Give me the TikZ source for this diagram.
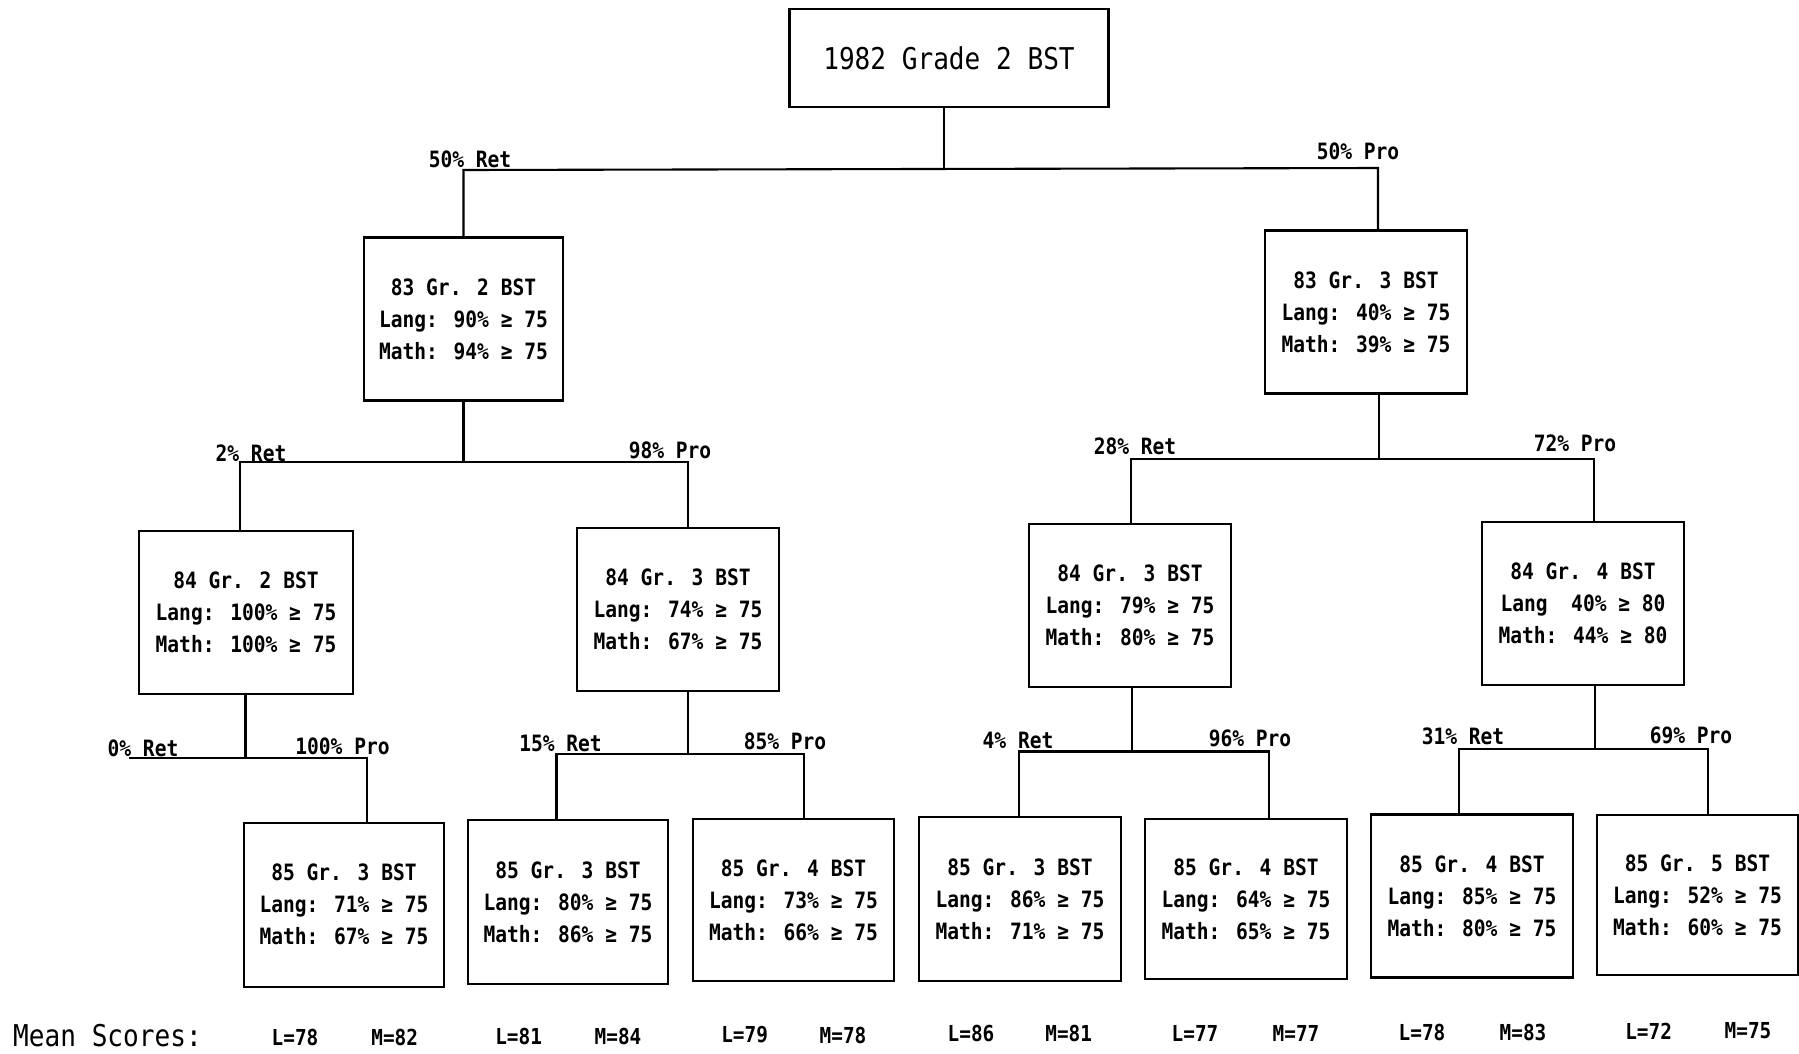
\documentclass[tikz,border=0pt]{standalone}
\usepackage{fontspec}
\newfontfamily\boxfont{DejaVu Sans Mono}[FakeStretch=0.87]
\newfontfamily\boldbox{DejaVu Sans Mono Bold}[FakeStretch=0.87]
\newfontfamily\meanfont{DejaVu Sans Mono Bold}[FakeStretch=0.88]
\begin{document}
\begin{tikzpicture}[x=1pt,y=-1pt,
  bx/.style={draw, line width=2.2pt, align=center, inner sep=0pt,
    font=\boldbox\fontsize{22.5}{32}\selectfont},
  ttl/.style={draw, line width=2.2pt, align=center, inner sep=0pt,
    font=\boxfont\fontsize{30}{36}\selectfont},
  lbl/.style={inner sep=0pt, font=\boldbox\fontsize{22.5}{27}\selectfont},
  mean/.style={inner sep=0pt, font=\meanfont\fontsize{22}{26}\selectfont},
  meanhead/.style={inner sep=0pt, font=\boxfont\fontsize{30}{36}\selectfont},
  conn/.style={line width=2.1pt}]
\useasboundingbox (0,0) rectangle (1799,1053);

% boxes
\node[ttl, minimum width=319pt, minimum height=98pt] (top) at (949,58) {1982 Grade 2 BST};

\node[bx, minimum width=199pt, minimum height=163pt] (l1a) at (463.5,319) {83 Gr. 2 BST\\Lang: 90\% ≥ 75\\Math: 94\% ≥ 75};
\node[bx, minimum width=202pt, minimum height=163pt] (l1b) at (1366,312) {83 Gr. 3 BST\\Lang: 40\% ≥ 75\\Math: 39\% ≥ 75};

\node[bx, minimum width=214pt, minimum height=163pt] (l2a) at (246,612.5) {84 Gr. 2 BST\\Lang: 100\% ≥ 75\\Math: 100\% ≥ 75};
\node[bx, minimum width=202pt, minimum height=163pt] (l2b) at (678,609.5) {84 Gr. 3 BST\\Lang: 74\% ≥ 75\\Math: 67\% ≥ 75};
\node[bx, minimum width=202pt, minimum height=163pt] (l2c) at (1130,605.5) {84 Gr. 3 BST\\Lang: 79\% ≥ 75\\Math: 80\% ≥ 75};
\node[bx, minimum width=202pt, minimum height=163pt] (l2d) at (1583,603.5) {84 Gr. 4 BST\\Lang\ \ 40\% ≥ 80\\Math: 44\% ≥ 80};

\node[bx, minimum width=200pt, minimum height=164pt] (b1) at (344,904.6) {85 Gr. 3 BST\\Lang: 71\% ≥ 75\\Math: 67\% ≥ 75};
\node[bx, minimum width=200pt, minimum height=164pt] (b2) at (568,902) {85 Gr. 3 BST\\Lang: 80\% ≥ 75\\Math: 86\% ≥ 75};
\node[bx, minimum width=201pt, minimum height=162pt] (b3) at (793.5,900) {85 Gr. 4 BST\\Lang: 73\% ≥ 75\\Math: 66\% ≥ 75};
\node[bx, minimum width=202pt, minimum height=164pt] (b4) at (1020,899) {85 Gr. 3 BST\\Lang: 86\% ≥ 75\\Math: 71\% ≥ 75};
\node[bx, minimum width=202pt, minimum height=160pt] (b5) at (1246,899) {85 Gr. 4 BST\\Lang: 64\% ≥ 75\\Math: 65\% ≥ 75};
\node[bx, minimum width=202pt, minimum height=163pt] (b6) at (1472,896) {85 Gr. 4 BST\\Lang: 85\% ≥ 75\\Math: 80\% ≥ 75};
\node[bx, minimum width=201pt, minimum height=160pt] (b7) at (1697.5,895) {85 Gr. 5 BST\\Lang: 52\% ≥ 75\\Math: 60\% ≥ 75};

% level 1 connectors
\coordinate (j0) at (944,169);
\coordinate (s1a) at (463.5,170);
\coordinate (s1b) at (1378,168);
\draw[conn] (j0 |- top.south) -- (j0);
\draw[conn] (s1a |- l1a.north) -- (s1a) -- (s1b) -- (s1b |- l1b.north);

% level 2 connectors
\coordinate (j1a) at (463.5,462);
\coordinate (s2a) at (240,462);
\coordinate (s2b) at (688,462);
\draw[conn] (j1a |- l1a.south) -- (j1a);
\draw[conn] (s2a |- l2a.north) -- (s2a) -- (s2b) -- (s2b |- l2b.north);

\coordinate (j1b) at (1379,459);
\coordinate (s2c) at (1131,459);
\coordinate (s2d) at (1594,459);
\draw[conn] (j1b |- l1b.south) -- (j1b);
\draw[conn] (s2c |- l2c.north) -- (s2c) -- (s2d) -- (s2d |- l2d.north);

% level 3 connectors
\coordinate (j2a) at (245.5,758);
\coordinate (f0) at (128.5,758);
\coordinate (s3a) at (367,758);
\draw[conn] (j2a |- l2a.south) -- (j2a);
\draw[conn] (f0) -- (s3a) -- (s3a |- b1.north);

\coordinate (j2b) at (688,754);
\coordinate (s3b) at (556.5,754);
\coordinate (s3c) at (804,754);
\draw[conn] (j2b |- l2b.south) -- (j2b);
\draw[conn] (s3b |- b2.north) -- (s3b) -- (s3c) -- (s3c |- b3.north);

\coordinate (j2c) at (1132,751.5);
\coordinate (s3d) at (1019,751.5);
\coordinate (s3e) at (1269,751.5);
\draw[conn] (j2c |- l2c.south) -- (j2c);
\draw[conn] (s3d |- b4.north) -- (s3d) -- (s3e) -- (s3e |- b5.north);

\coordinate (j2d) at (1595,749);
\coordinate (s3f) at (1459,749);
\coordinate (s3g) at (1708,749);
\draw[conn] (j2d |- l2d.south) -- (j2d);
\draw[conn] (s3f |- b6.north) -- (s3f) -- (s3g) -- (s3g |- b7.north);

% branch labels
\node[lbl] (t1) at (470,159) {50\% Ret};
\node[lbl] (t2) at (1358,151) {50\% Pro};
\node[lbl] (t3) at (251,453) {2\% Ret};
\node[lbl] (t4) at (670,450) {98\% Pro};
\node[lbl] (t5) at (1135,446) {28\% Ret};
\node[lbl] (t6) at (1575,443) {72\% Pro};
\node[lbl] (t7) at (143,748) {0\% Ret};
\node[lbl] (t8) at (342.5,746) {100\% Pro};
\node[lbl] (t9) at (560.5,743.5) {15\% Ret};
\node[lbl] (t10) at (785,741) {85\% Pro};
\node[lbl] (t11) at (1018,740) {4\% Ret};
\node[lbl] (t12) at (1250,738) {96\% Pro};
\node[lbl] (t13) at (1463,736.6) {31\% Ret};
\node[lbl] (t14) at (1691,735.4) {69\% Pro};

% mean scores
\node[meanhead] (mh) at (107.5,1036) {Mean Scores:};
\node[mean] (m1l) at (295,1037) {L=78};
\node[mean] (m1m) at (394.7,1037) {M=82};
\node[mean] (m2l) at (518.6,1036) {L=81};
\node[mean] (m2m) at (618,1036) {M=84};
\node[mean] (m3l) at (744.6,1035) {L=79};
\node[mean] (m3m) at (843,1035) {M=78};
\node[mean] (m4l) at (971,1033) {L=86};
\node[mean] (m4m) at (1068.7,1033) {M=81};
\node[mean] (m5l) at (1195,1033) {L=77};
\node[mean] (m5m) at (1296,1033) {M=77};
\node[mean] (m6l) at (1422,1032) {L=78};
\node[mean] (m6m) at (1523,1032) {M=83};
\node[mean] (m7l) at (1648.6,1031) {L=72};
\node[mean] (m7m) at (1748,1031) {M=75};
\end{tikzpicture}
\end{document}
